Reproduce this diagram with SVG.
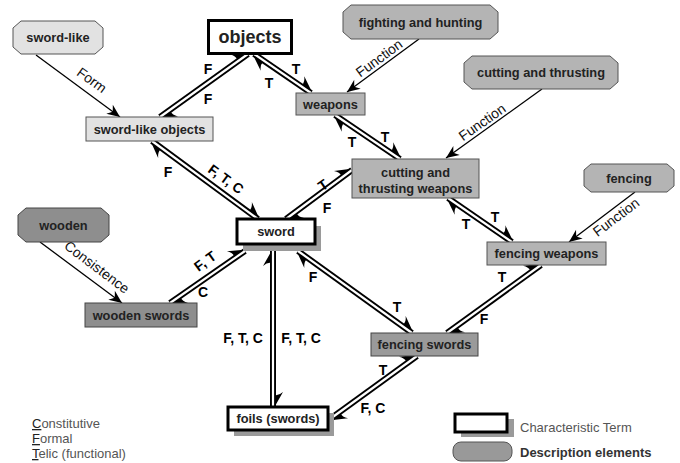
<svg xmlns="http://www.w3.org/2000/svg" width="680" height="463" viewBox="0 0 680 463">
<style>
text{font-family:"Liberation Sans",Arial,sans-serif}
.nt{font-size:12.8px;font-weight:bold;fill:#222;text-anchor:middle;dominant-baseline:central}
.el{font-size:14px;font-weight:bold;fill:#000;text-anchor:middle;dominant-baseline:central}
.fl{font-size:14px;fill:#111;text-anchor:middle;dominant-baseline:central}
.lg{font-size:13px;fill:#555}
.light{fill:#e2e2e2;stroke:#555;stroke-width:1}
.mid{fill:#b4b4b4;stroke:#555;stroke-width:1}
.dark{fill:#8e8e8e;stroke:#444;stroke-width:1}
.key{fill:#fff;stroke:#000;stroke-width:3}
.shadow{fill:#9a9a9a}
.dl{fill:none;stroke:#000;stroke-width:6;marker-start:url(#h);marker-end:url(#h)}
.dw{fill:none;stroke:#fff;stroke-width:2.2}
.sl{fill:none;stroke:#000;stroke-width:1.3;marker-end:url(#a)}
</style>
<defs>
<marker id="h" viewBox="-17 -12 19 14" refX="0" refY="0" markerWidth="19" markerHeight="14" markerUnits="userSpaceOnUse" orient="auto-start-reverse" overflow="visible">
<path d="M0,-1.5 L-15,-10 Q-11,-5.5 -12,-1.5 Z" fill="#000"/>
</marker>
<marker id="a" viewBox="-14 -7 15 14" refX="0" refY="0" markerWidth="15" markerHeight="14" markerUnits="userSpaceOnUse" orient="auto" overflow="visible">
<path d="M0,0 L-13,-5.5 L-9,0 L-13,5.5 Z" fill="#000"/>
</marker>
</defs>
<rect width="680" height="463" fill="#fff"/>

<g id="connectors">
<path class="sl" d="M36,55 L120,117"/>
<path class="sl" d="M419,39 L347,92"/>
<path class="sl" d="M542,89 L446,158"/>
<path class="sl" d="M40,242 L122,303"/>
<path class="sl" d="M635,192 L569,242"/>
<path class="dl" d="M248,54 L160,117"/><path class="dw" d="M248,54 L160,117"/>
<path class="dl" d="M254,54 L311,93"/><path class="dw" d="M254,54 L311,93"/>
<path class="dl" d="M335,115 L400,159"/><path class="dw" d="M335,115 L400,159"/>
<path class="dl" d="M152,141 L258,219"/><path class="dw" d="M152,141 L258,219"/>
<path class="dl" d="M286,219 L352,170"/><path class="dw" d="M286,219 L352,170"/>
<path class="dl" d="M170,303 L245,251"/><path class="dw" d="M170,303 L245,251"/>
<path class="dl" d="M273,251 L273,407"/><path class="dw" d="M273,251 L273,407"/>
<path class="dl" d="M298,251 L412,333"/><path class="dw" d="M298,251 L412,333"/>
<path class="dl" d="M448,198 L512,242"/><path class="dw" d="M448,198 L512,242"/>
<path class="dl" d="M541,265 L447,333"/><path class="dw" d="M541,265 L447,333"/>
<path class="dl" d="M417,356 L330,419"/><path class="dw" d="M417,356 L330,419"/>

<text class="fl" transform="translate(92,80) rotate(36)">Form</text>
<text class="fl" transform="translate(379,58) rotate(-36)">Function</text>
<text class="fl" transform="translate(482,122) rotate(-35)">Function</text>
<text class="fl" transform="translate(97,267) rotate(37)">Consistence</text>
<text class="fl" transform="translate(616,217) rotate(-37)">Function</text>

<text class="el" x="208" y="69">F</text>
<text class="el" x="208" y="99">F</text>
<text class="el" x="269" y="83">T</text>
<text class="el" x="296" y="69">T</text>
<text class="el" x="352" y="142">T</text>
<text class="el" x="385" y="137">T</text>
<text class="el" x="168" y="172">F</text>
<text class="el" transform="translate(226,179) rotate(36)">F, T, C</text>
<text class="el" transform="translate(323,185) rotate(-35)">T</text>
<text class="el" x="327" y="208">F</text>
<text class="el" transform="translate(205,261) rotate(-36)">F, T</text>
<text class="el" x="203" y="292">C</text>
<text class="el" x="243" y="338">F, T, C</text>
<text class="el" x="301" y="338">F, T, C</text>
<text class="el" x="313" y="277">F</text>
<text class="el" x="397" y="307">T</text>
<text class="el" x="466" y="224">T</text>
<text class="el" x="495" y="217">T</text>
<text class="el" x="502" y="277">T</text>
<text class="el" x="484" y="319">F</text>
<text class="el" x="383" y="370">T</text>
<text class="el" x="373" y="408">F, C</text>
</g>

<g id="sword-like">
<polygon class="light" points="21,21 95,21 103,28 103,47 95,54 21,54 13,47 13,28"/>
<text class="nt" x="58" y="37.5">sword-like</text>
</g>
<g id="objects">
<rect x="209" y="21" width="82" height="32" fill="#fff" stroke="#000" stroke-width="4"/>
<rect x="210.5" y="22.5" width="79" height="29" fill="none" stroke="#fff" stroke-width="1"/>
<text class="nt" x="250" y="37" style="font-size:18px">objects</text>
</g>
<g id="sword-like-objects">
<rect class="light" x="86" y="117" width="127" height="24"/>
<text class="nt" x="149.5" y="129">sword-like objects</text>
</g>
<g id="weapons">
<rect class="mid" x="296" y="93" width="69" height="22"/>
<text class="nt" x="330.5" y="104">weapons</text>
</g>
<g id="fighting-and-hunting">
<polygon class="mid" points="351,5 490,5 498,12 498,32 490,39 351,39 343,32 343,12"/>
<text class="nt" x="420.5" y="22">fighting and hunting</text>
</g>
<g id="cutting-and-thrusting">
<polygon class="mid" points="472,56 610,56 618,63 618,82 610,89 472,89 464,82 464,63"/>
<text class="nt" x="541" y="72.5">cutting and thrusting</text>
</g>
<g id="cutting-and-thrusting-weapons">
<rect class="mid" x="352" y="159" width="127" height="39"/>
<text class="nt" x="415.5" y="172.5">cutting and</text>
<text class="nt" x="415.5" y="188">thrusting weapons</text>
</g>
<g id="fencing">
<polygon class="mid" points="591,164 667,164 674,170 674,186 667,192 591,192 584,186 584,170"/>
<text class="nt" x="629" y="178">fencing</text>
</g>
<g id="fencing-weapons">
<rect class="mid" x="487" y="242" width="119" height="23"/>
<text class="nt" x="546.5" y="253.5">fencing weapons</text>
</g>
<g id="sword">
<rect class="shadow" x="243" y="226" width="78" height="25"/>
<rect class="key" x="237" y="219" width="78" height="25"/>
<text class="nt" x="276" y="231.5">sword</text>
</g>
<g id="wooden">
<polygon class="dark" points="26,208 101,208 109,215 109,235 101,242 26,242 18,235 18,215"/>
<text class="nt" x="63.5" y="225">wooden</text>
</g>
<g id="wooden-swords">
<rect class="dark" x="85" y="303" width="112" height="24"/>
<text class="nt" x="141" y="315">wooden swords</text>
</g>
<g id="fencing-swords">
<rect class="dark" x="371" y="333" width="107" height="23" style="fill:#9a9a9a"/>
<text class="nt" x="424.5" y="344.5">fencing swords</text>
</g>
<g id="foils">
<rect class="shadow" x="234" y="413" width="100" height="23"/>
<rect class="key" x="228" y="407" width="100" height="23"/>
<text class="nt" x="278" y="418.5">foils (swords)</text>
</g>

<g id="legend">
<text class="lg" x="32" y="428"><tspan fill="#222" text-decoration="underline">C</tspan>onstitutive</text>
<text class="lg" x="32" y="443"><tspan fill="#222" text-decoration="underline">F</tspan>ormal</text>
<text class="lg" x="32" y="458"><tspan fill="#222" text-decoration="underline">T</tspan>elic (functional)</text>
<rect class="shadow" x="461" y="419" width="53" height="18"/>
<rect class="key" x="455" y="414" width="52" height="18"/>
<text class="lg" x="520" y="432">Characteristic Term</text>
<rect x="453" y="442" width="59" height="19" rx="8" fill="#999" stroke="#555" stroke-width="1"/>
<text class="lg" x="520" y="457" style="font-weight:bold;fill:#333">Description elements</text>
</g>
</svg>
